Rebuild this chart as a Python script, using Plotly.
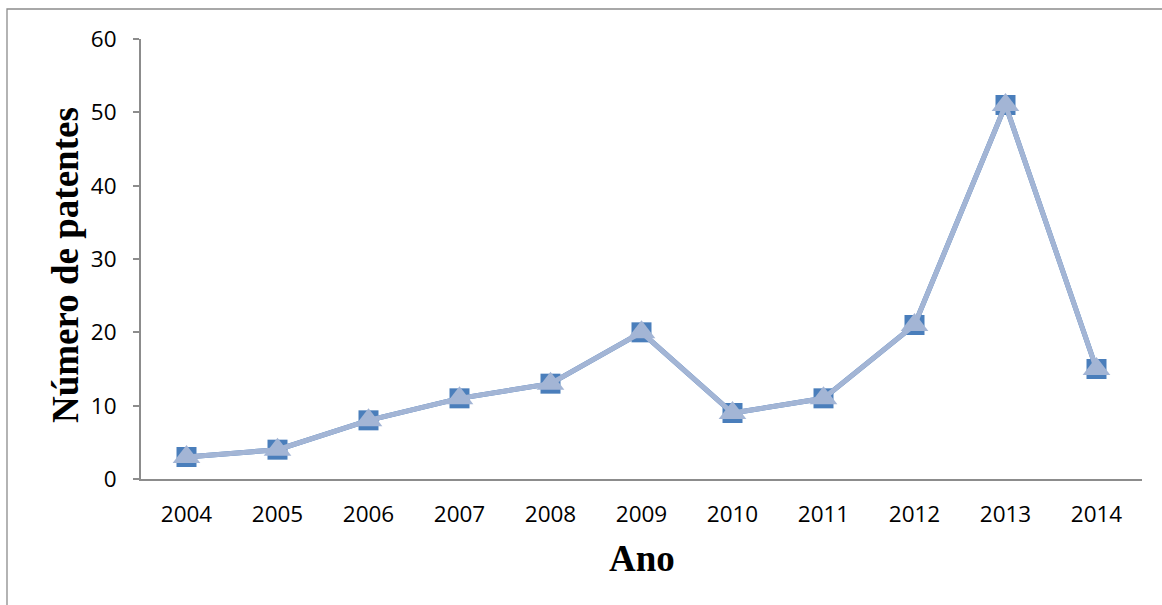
import plotly.graph_objects as go

# Patent counts per year
anos = ["2004", "2005", "2006", "2007", "2008", "2009", "2010", "2011", "2012", "2013", "2014"]
patentes = [3, 4, 8, 11, 13, 20, 9, 11, 21, 51, 15]
y_ticks = [0, 10, 20, 30, 40, 50, 60]

W, H = 1162, 605
L, R, T, B = 141, 20, 39, 126
pw, ph = W - L - R, H - T - B


def px_x(x):
    return (x - L) / pw


def px_y(y):
    return (H - B - y) / ph


fig = go.Figure()

# Square-marker series (lies underneath)
fig.add_trace(go.Scatter(
    x=anos, y=patentes, mode="lines+markers",
    line=dict(color="#4A7EBB", width=5),
    marker=dict(symbol="square", size=20, color="#4A7EBB"),
    showlegend=False, hoverinfo="skip",
))
# Triangle-marker series drawn on top
fig.add_trace(go.Scatter(
    x=anos, y=patentes, mode="lines+markers",
    line=dict(color="#A3B5D5", width=5),
    marker=dict(symbol="triangle-up", size=24, color="#A3B5D5"),
    showlegend=False,
))

axis_font = dict(family="Open Sans", size=22.5, color="#000000")

fig.update_xaxes(
    type="category", range=[-0.5, 10.5],
    showline=True, linecolor="#8C8C8C", linewidth=2,
    showgrid=False, zeroline=False, ticks="",
    tickfont=axis_font, ticklabelstandoff=14,
)
fig.update_yaxes(
    range=[0, 60], tickvals=y_ticks,
    showline=True, linecolor="#8C8C8C", linewidth=2,
    showgrid=False, zeroline=False,
    ticks="outside", ticklen=6, tickwidth=2, tickcolor="#8C8C8C",
    tickfont=axis_font, ticklabelstandoff=12,
)

title_font = dict(family="Liberation Serif", size=37, color="#000000", weight="bold")

fig.update_layout(
    width=W, height=H,
    margin=dict(l=L, r=R, t=T, b=B),
    paper_bgcolor="white", plot_bgcolor="white",
    annotations=[
        dict(text="<b>Número de patentes</b>", textangle=-90,
             xref="paper", yref="paper", x=px_x(65), y=px_y(265),
             xanchor="center", yanchor="middle", showarrow=False,
             font=title_font),
        dict(text="<b>Ano</b>",
             xref="paper", yref="paper", x=px_x(642), y=px_y(558),
             xanchor="center", yanchor="middle", showarrow=False,
             font=title_font),
    ],
    shapes=[
        dict(type="rect", xref="paper", yref="paper",
             x0=px_x(7), y0=px_y(640), x1=px_x(1200), y1=px_y(9),
             line=dict(color="#8C8C8C", width=1.3), layer="below"),
    ],
)

fig.write_html("out.html")
